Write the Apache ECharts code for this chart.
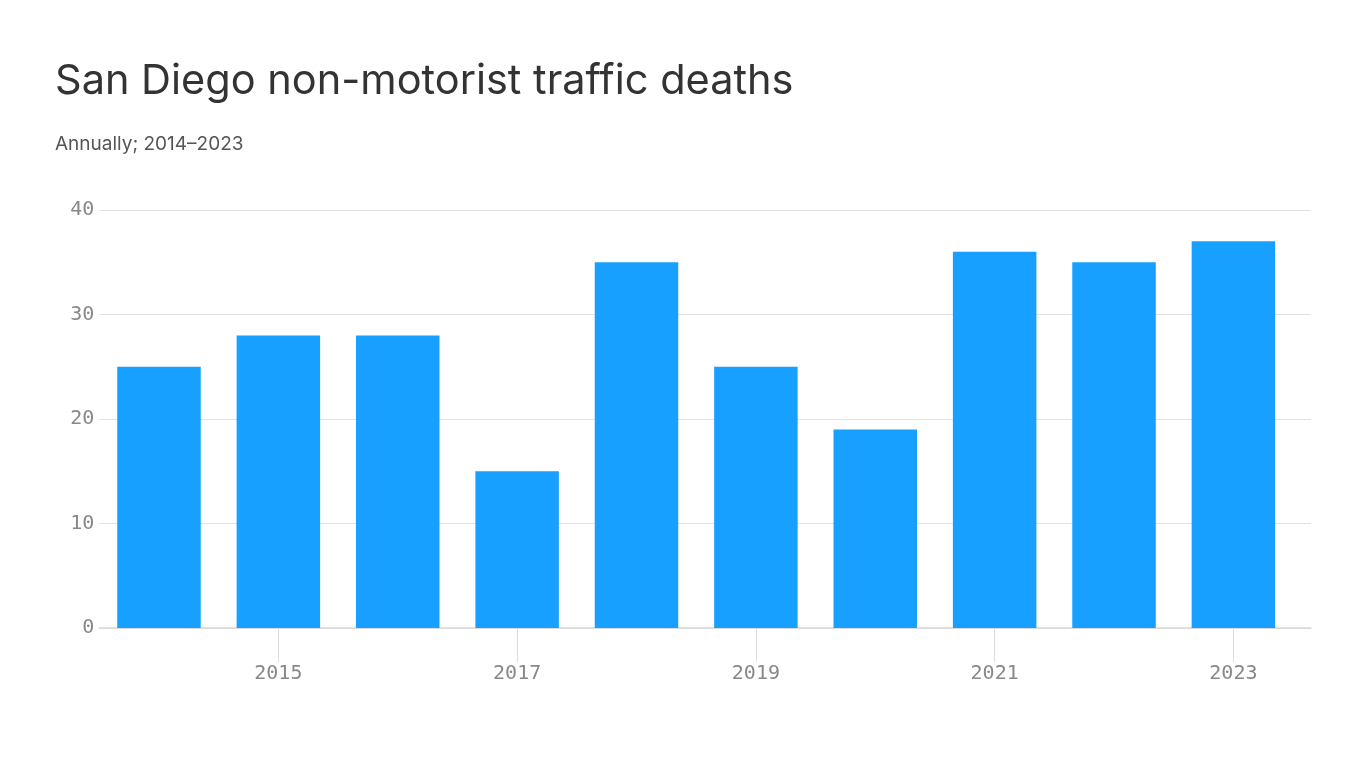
<!DOCTYPE html>
<html><head><meta charset="utf-8">
<script src="https://cdn.jsdelivr.net/npm/echarts@6/dist/echarts.min.js"></script>
<style>html,body{margin:0;padding:0;background:#fff}#c{width:1366px;height:768px}</style>
</head><body><div id="c"></div>
<script>
const years = [2014,2015,2016,2017,2018,2019,2020,2021,2022,2023];
const deaths = [25,28,28,15,35,25,19,36,35,37];
const xTickLabels = [2015,2017,2019,2021,2023];
const yTicks = [0,10,20,30,40];

const chart = echarts.init(document.getElementById('c'));
chart.setOption({
  animation:false,
  backgroundColor:'#fff',
  title:{
    text:'San Diego non-motorist traffic deaths',
    subtext:'Annually; 2014\u20132023',
    left:50, top:56,
    itemGap:32,
    textStyle:{fontFamily:'Inter',fontSize:41.5,fontWeight:'normal',color:'#333'},
    subtextStyle:{fontFamily:'Inter',fontSize:19,color:'#555'}
  },
  grid:{left:99.3,right:55,top:210,bottom:140,containLabel:false},
  xAxis:{
    type:'value', min:2013.5, max:2023.65,
    splitLine:{show:false},
    axisLine:{show:true,lineStyle:{color:'#d9d9d9',width:1.5}},
    axisTick:{show:true,customValues:xTickLabels,length:34,lineStyle:{color:'#dedede',width:1}},
    axisLabel:{customValues:xTickLabels,margin:36,fontFamily:'DejaVu Sans Mono',fontSize:20,color:'#888',formatter:v=>String(v)}
  },
  yAxis:{
    type:'value', min:0, max:40, interval:10,
    axisLine:{show:false}, axisTick:{show:false},
    splitLine:{lineStyle:{color:'#e2e2e2',width:1}},
    axisLabel:{margin:5,padding:[3,0,0,0],fontFamily:'DejaVu Sans Mono',fontSize:20,color:'#888'}
  },
  series:[{
    type:'bar', barWidth:83.5,
    itemStyle:{color:'#17a0ff'},
    data:years.map((y,i)=>[y,deaths[i]])
  }]
});
</script></body></html>
